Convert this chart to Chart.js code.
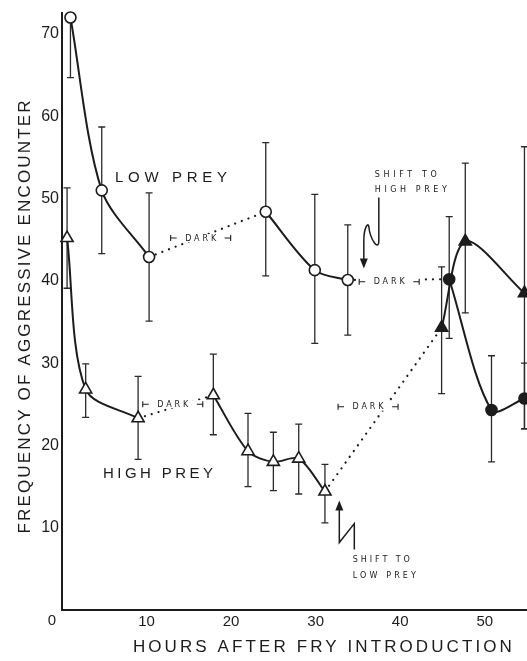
<!DOCTYPE html>
<html>
<head>
<meta charset="utf-8">
<script src="https://cdn.jsdelivr.net/npm/chart.js@4.4.1/dist/chart.umd.min.js"></script>
<style>
  html, body { margin: 0; padding: 0; background: #fff; }
</style>
</head>
<body>
<canvas id="fryChart" width="527" height="661"></canvas>
<script>
// LOW PREY group: open circles, filled after the shift to high prey
const lowHours  = [1, 4.7, 10.3, 24.1, 29.9, 33.8, 45.8, 50.8, 54.7];
const lowFreq   = [72, 51, 42.9, 48.4, 41.3, 40.1, 40.2, 24.3, 25.7];
const lowUpper  = [72.5, 58.7, 50.7, 56.8, 50.5, 46.8, 47.8, 30.9, 30];
const lowLower  = [64.7, 43.3, 35.1, 40.6, 32.4, 33.4, 33, 18, 22];
const lowPeriod = [0, 0, 0, 1, 1, 1, 2, 2, 2];

// HIGH PREY group: open triangles, filled after the shift to low prey
const highHours  = [0.6, 2.8, 9, 17.9, 22, 25, 28, 31.1, 44.9, 47.7, 54.7];
const highFreq   = [45.2, 26.8, 23.3, 26.1, 19.3, 18, 18.4, 14.4, 34.3, 44.8, 38.5];
const highUpper  = [51.3, 29.9, 28.4, 31.1, 23.9, 21.6, 22.6, 17.7, 41.7, 54.3, 56.3];
const highLower  = [39.1, 23.4, 18.3, 21.3, 15, 14.5, 14.1, 10.6, 26.3, 36.1, 22];
const highPeriod = [0, 0, 0, 1, 1, 1, 1, 1, 2, 2, 2];

const shiftPeriod = 2;  // periods from here on are after the prey shift

const xTicks = [0, 10, 20, 30, 40, 50];
const yTicks = [0, 10, 20, 30, 40, 50, 60, 70];

const INK = "#1c1c1c";
const FONT = "'Liberation Sans', Arial, sans-serif";

// split one group into solid runs (light periods) and dotted links (dark periods)
function buildSets(hours, freq, period, shape, radius) {
  const sets = [];
  let run = [];
  const flush = (p) => {
    const filled = p >= shiftPeriod;
    sets.push({
      data: run,
      borderColor: INK,
      borderWidth: 2,
      tension: 0.3,
      pointStyle: shape,
      pointRadius: radius,
      pointBorderWidth: 1.6,
      pointBorderColor: INK,
      pointBackgroundColor: filled ? INK : "#fff",
      order: 1,
      clip: false
    });
  };
  for (let i = 0; i < hours.length; i++) {
    if (i > 0 && period[i] !== period[i - 1]) {
      flush(period[i - 1]);
      sets.push({
        data: [run[run.length - 1], { x: hours[i], y: freq[i] }],
        borderColor: INK,
        borderWidth: 2.2,
        borderDash: [0.1, 7],
        borderCapStyle: "round",
        tension: 0,
        pointRadius: 0,
        order: 2,
        clip: false
      });
      run = [];
    }
    run.push({ x: hours[i], y: freq[i] });
  }
  flush(period[hours.length - 1]);
  return sets;
}

// text spread with letter spacing so it fills the given width
function spaced(ctx, str, x, y, width, font, align) {
  ctx.save();
  ctx.font = font;
  ctx.letterSpacing = "0px";
  const w0 = ctx.measureText(str).width;
  const ls = Math.max(0, (width - w0) / Math.max(1, str.length - 1));
  ctx.letterSpacing = ls.toFixed(2) + "px";
  ctx.textBaseline = "middle";
  ctx.textAlign = "left";
  const left = align === "center" ? x - width / 2 : x;
  ctx.fillText(str, left, y);
  ctx.restore();
}

const darkLabels = [
  { h: 16.4, v: 45.2 },
  { h: 38.7, v: 39.9 },
  { h: 13.1, v: 25.0 },
  { h: 36.2, v: 24.7 }
];

const annotate = {
  id: "annotate",
  beforeDatasetsDraw(chart) {
    const { ctx, scales: { x, y } } = chart;
    ctx.save();
    ctx.strokeStyle = "#2a2a2a";
    ctx.lineWidth = 1.3;
    const bars = (hours, up, lo) => {
      for (let i = 0; i < hours.length; i++) {
        const px = x.getPixelForValue(hours[i]);
        const yt = y.getPixelForValue(up[i]);
        const yb = y.getPixelForValue(lo[i]);
        ctx.beginPath();
        ctx.moveTo(px, yt); ctx.lineTo(px, yb);
        ctx.moveTo(px - 3.5, yt); ctx.lineTo(px + 3.5, yt);
        ctx.moveTo(px - 3.5, yb); ctx.lineTo(px + 3.5, yb);
        ctx.stroke();
      }
    };
    bars(lowHours, lowUpper, lowLower);
    bars(highHours, highUpper, highLower);
    ctx.restore();
  },
  afterDatasetsDraw(chart) {
    const { ctx, scales: { x, y }, chartArea } = chart;
    const X = h => x.getPixelForValue(h);
    const Y = v => y.getPixelForValue(v);
    ctx.save();
    ctx.fillStyle = INK;
    ctx.strokeStyle = INK;

    // DARK interval labels
    darkLabels.forEach(d => {
      const cx = X(d.h), cy = Y(d.v), half = 30;
      ctx.fillStyle = "#fff";
      ctx.fillRect(cx - half - 1, cy - 4, 2 * half + 2, 8);
      ctx.fillStyle = INK;
      ctx.lineWidth = 1.1;
      ctx.beginPath();
      ctx.moveTo(cx - half, cy - 3); ctx.lineTo(cx - half, cy + 3);
      ctx.moveTo(cx - half, cy); ctx.lineTo(cx - half + 6, cy);
      ctx.moveTo(cx + half, cy - 3); ctx.lineTo(cx + half, cy + 3);
      ctx.moveTo(cx + half, cy); ctx.lineTo(cx + half - 6, cy);
      ctx.stroke();
      spaced(ctx, "DARK", cx, cy + 0.5, 31, "8px 'DejaVu Sans', sans-serif", "center");
    });

    // group names
    spaced(ctx, "LOW PREY", X(6.27), Y(52.5), 112, "15px " + FONT, "left");
    spaced(ctx, "HIGH PREY", X(4.85), Y(16.6), 110, "15px " + FONT, "left");

    // shift notes
    const small = "8px 'DejaVu Sans', sans-serif";
    spaced(ctx, "SHIFT TO", X(37.0), Y(52.9), 62, small, "left");
    spaced(ctx, "HIGH PREY", X(37.0), Y(51.0), 72, small, "left");
    spaced(ctx, "SHIFT TO", X(34.4), Y(6.1), 57, small, "left");
    spaced(ctx, "LOW PREY", X(34.4), Y(4.2), 63, small, "left");

    // zigzag arrow down (shift to high prey)
    let tx = X(35.7), ty = Y(41.5);
    ctx.lineWidth = 1.5;
    ctx.beginPath();
    ctx.moveTo(tx + 15, ty - 71);
    ctx.lineTo(tx + 15, ty - 28);
    ctx.bezierCurveTo(tx + 15, ty - 16, tx + 6, ty - 30, tx + 5, ty - 42);
    ctx.bezierCurveTo(tx + 4, ty - 47, tx, ty - 40, tx, ty - 28);
    ctx.lineTo(tx, ty - 8);
    ctx.stroke();
    ctx.beginPath();
    ctx.moveTo(tx, ty); ctx.lineTo(tx - 4, ty - 10); ctx.lineTo(tx + 4, ty - 10);
    ctx.closePath(); ctx.fill();

    // zigzag arrow up (shift to low prey)
    tx = X(32.8); ty = Y(13.3);
    ctx.beginPath();
    ctx.moveTo(tx, ty + 8);
    ctx.lineTo(tx, ty + 42);
    ctx.lineTo(tx + 15, ty + 23);
    ctx.lineTo(tx + 15, ty + 49);
    ctx.stroke();
    ctx.beginPath();
    ctx.moveTo(tx, ty); ctx.lineTo(tx - 4, ty + 10); ctx.lineTo(tx + 4, ty + 10);
    ctx.closePath(); ctx.fill();

    // corner zero
    ctx.font = "15px " + FONT;
    ctx.textAlign = "center";
    ctx.textBaseline = "middle";
    ctx.fillText("0", chartArea.left - 10, chartArea.bottom + 11);

    // axis titles
    spaced(ctx, "HOURS AFTER FRY INTRODUCTION", X(30.8), chartArea.bottom + 37, 379, "17px " + FONT, "center");
    ctx.save();
    ctx.translate(25, Y(35.6));
    ctx.rotate(-Math.PI / 2);
    spaced(ctx, "FREQUENCY OF AGGRESSIVE ENCOUNTER", 0, 0, 433, "17px " + FONT, "center");
    ctx.restore();

    ctx.restore();
  }
};

const datasets = [
  ...buildSets(lowHours, lowFreq, lowPeriod, "circle", 5.5),
  ...buildSets(highHours, highFreq, highPeriod, "triangle", 7)
];

new Chart(document.getElementById("fryChart").getContext("2d"), {
  type: "line",
  data: { datasets },
  options: {
    responsive: false,
    animation: false,
    layout: { autoPadding: false, padding: { top: 8, right: 0, bottom: 0, left: 0 } },
    plugins: { legend: { display: false }, tooltip: { enabled: false } },
    scales: {
      x: {
        type: "linear",
        min: 0,
        max: 55,
        afterBuildTicks: s => { s.ticks = xTicks.map(v => ({ value: v })); },
        afterFit: s => { s.height = 51; },
        ticks: {
          callback: v => (v === 0 ? "" : v),
          font: { family: FONT, size: 15 },
          color: INK,
          padding: 3,
          maxRotation: 0,
          autoSkip: false
        },
        grid: { display: false, drawTicks: false },
        border: { color: INK, width: 2 }
      },
      y: {
        type: "linear",
        min: 0,
        max: 72.6,
        afterBuildTicks: s => { s.ticks = yTicks.map(v => ({ value: v })); },
        afterFit: s => { s.width = 62; },
        ticks: {
          callback: v => (v === 0 ? "" : v),
          font: { family: FONT, size: 16 },
          color: INK,
          padding: 3,
          autoSkip: false
        },
        grid: { display: false, drawTicks: false },
        border: { color: INK, width: 2 }
      }
    }
  },
  plugins: [annotate]
});
</script>
</body>
</html>
